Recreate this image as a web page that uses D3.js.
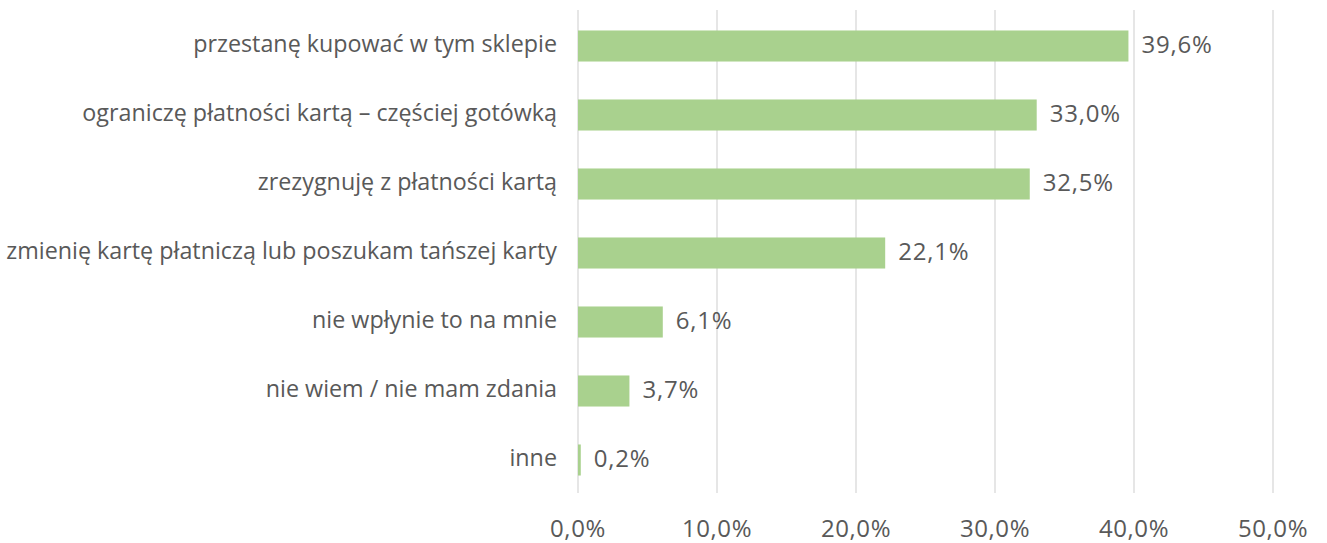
<!DOCTYPE html>
<html>
<head>
<meta charset="utf-8">
<script src="https://cdn.jsdelivr.net/npm/d3@7"></script>
<style>
  body { margin: 0; background: #fff; }
  text { font-family: 'Open Sans', sans-serif; fill: #595959; }
</style>
</head>
<body>
<svg class="canvas" width="1327" height="543"></svg>
<script>
'use strict'

const categories = [
  'przestanę kupować w tym sklepie',
  'ograniczę płatności kartą – częściej gotówką',
  'zrezygnuję z płatności kartą',
  'zmienię kartę płatniczą lub poszukam tańszej karty',
  'nie wpłynie to na mnie',
  'nie wiem / nie mam zdania',
  'inne'
]
const values = [39.6, 33.0, 32.5, 22.1, 6.1, 3.7, 0.2]
const ticks = [0, 10, 20, 30, 40, 50]

const fmt = v => v.toFixed(1).replace('.', ',') + '%'

const svg = d3.select('.canvas')
const plotLeft = 578, plotRight = 1273, plotTop = 11.5, plotBottom = 494.5

const x = d3.scaleLinear().domain([0, 50]).range([plotLeft, plotRight])
const y = d3.scaleBand().domain(categories).range([plotTop, plotBottom]).paddingInner(0.55).paddingOuter(0.275)

// Gridlines
svg.append('g')
  .selectAll('line')
  .data(ticks)
  .enter()
  .append('line')
  .attr('x1', d => x(d))
  .attr('x2', d => x(d))
  .attr('y1', 10)
  .attr('y2', 493)
  .attr('stroke', '#d9d9d9')
  .attr('stroke-width', 1.3)

// Tick labels
svg.append('g')
  .selectAll('text')
  .data(ticks)
  .enter()
  .append('text')
  .attr('x', d => x(d))
  .attr('y', 531)
  .attr('text-anchor', 'middle')
  .attr('dominant-baseline', 'middle')
  .style('font-size', '24px')
  .style('letter-spacing', '0.6px')
  .text(d => fmt(d))

// Bars
svg.append('g')
  .selectAll('rect')
  .data(values)
  .enter()
  .append('rect')
  .attr('x', x(0))
  .attr('y', (d, i) => y(categories[i]))
  .attr('width', d => x(d) - x(0))
  .attr('height', y.bandwidth())
  .attr('fill', '#a9d18e')

// Value labels
svg.append('g')
  .selectAll('text')
  .data(values)
  .enter()
  .append('text')
  .attr('x', d => x(d) + 13)
  .attr('y', (d, i) => y(categories[i]) + y.bandwidth() / 2 + 1)
  .attr('dominant-baseline', 'middle')
  .style('font-size', '24px')
  .style('letter-spacing', '0.8px')
  .text(d => fmt(d))

// Category labels
svg.append('g')
  .selectAll('text')
  .data(categories)
  .enter()
  .append('text')
  .attr('x', 557)
  .attr('y', d => y(d) + y.bandwidth() / 2)
  .attr('text-anchor', 'end')
  .attr('dominant-baseline', 'middle')
  .style('font-size', '23.3px')
  .text(d => d)
</script>
</body>
</html>
